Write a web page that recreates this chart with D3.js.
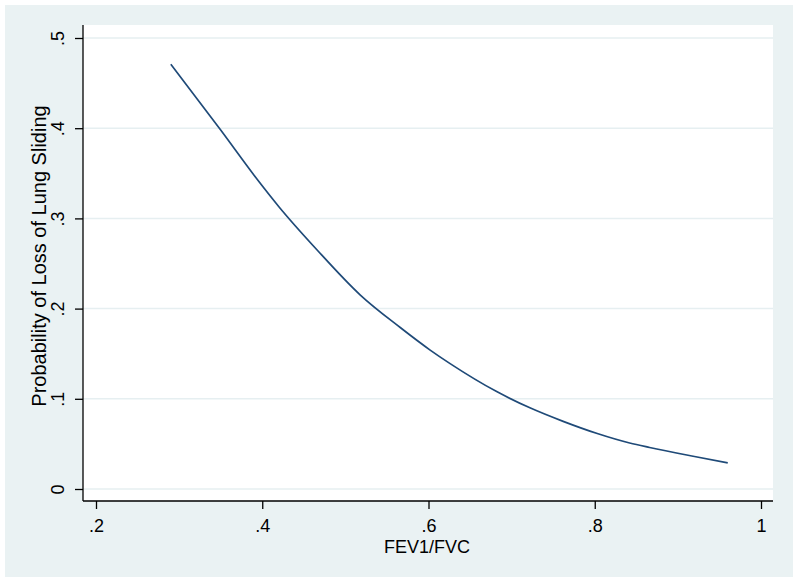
<!DOCTYPE html>
<html>
<head>
<meta charset="utf-8">
<script src="https://cdn.jsdelivr.net/npm/d3@7"></script>
<style>
  body { margin: 0; background: #fff; }
  text { font-family: "Liberation Sans", Arial, sans-serif; fill: #000; }
</style>
</head>
<body>
<div id="chart"></div>
<script>
// values
var fevRatio = [0.29, 0.35, 0.395, 0.42, 0.466, 0.518, 0.566, 0.602, 0.626, 0.682, 0.722, 0.762, 0.803, 0.842, 0.866, 0.92, 0.96];
var probLoss = [0.471, 0.398, 0.342, 0.313, 0.265, 0.215, 0.179, 0.154, 0.139, 0.108, 0.090, 0.075, 0.0615, 0.051, 0.046, 0.036, 0.029];
var xTicks = [0.2, 0.4, 0.6, 0.8, 1];
var yTicks = [0, 0.1, 0.2, 0.3, 0.4, 0.5];

function setUpChart() {
  var svgWidth = 800;
  var svgHeight = 585;

  var svg = d3.select("#chart")
    .append("svg")
    .attr("width", svgWidth)
    .attr("height", svgHeight);

  // outer graph region
  svg.append("rect")
    .attr("x", 5).attr("y", 5)
    .attr("width", 788).attr("height", 572)
    .attr("fill", "#eaf2f3");

  // plot region
  var plot = { left: 83, top: 25, right: 773, bottom: 501 };
  svg.append("rect")
    .attr("x", plot.left).attr("y", plot.top)
    .attr("width", plot.right - plot.left)
    .attr("height", plot.bottom - plot.top)
    .attr("fill", "#fff");

  var xScale = d3.scaleLinear().domain([0.2, 1]).range([96, 761]);
  var yScale = d3.scaleLinear().domain([0, 0.5]).range([489, 38]);

  // gridlines
  svg.append("g")
    .selectAll("line")
    .data(yTicks)
    .enter()
    .append("line")
    .attr("x1", plot.left).attr("x2", plot.right)
    .attr("y1", d => yScale(d)).attr("y2", d => yScale(d))
    .attr("stroke", "#e6eff1")
    .attr("stroke-width", 1.5);

  var fmt = d => d === 0 ? "0" : d === 1 ? "1" : d3.format(".1f")(d).replace(/^0/, "");

  // x axis
  var bottomAxis = d3.axisBottom(xScale)
    .tickValues(xTicks)
    .tickFormat(fmt)
    .tickSizeInner(8)
    .tickSizeOuter(0);

  var xAxis = svg.append("g")
    .attr("transform", `translate(0, ${plot.bottom})`)
    .call(bottomAxis);
  xAxis.select(".domain").attr("d", `M${plot.left},0H${plot.right}`);
  xAxis.selectAll(".tick text").attr("dy", null).attr("y", 31);

  // y axis
  var leftAxis = d3.axisLeft(yScale)
    .tickValues(yTicks)
    .tickFormat(fmt)
    .tickSizeInner(8)
    .tickSizeOuter(0);

  var yAxis = svg.append("g")
    .attr("transform", `translate(${plot.left}, 0)`)
    .call(leftAxis);
  yAxis.select(".domain").attr("d", `M0,${plot.top}V${plot.bottom}`);
  yAxis.selectAll(".tick text")
    .attr("x", null).attr("dy", null)
    .attr("text-anchor", "middle")
    .attr("transform", "translate(-19,0) rotate(-90)")
    .attr("y", 0);

  [xAxis, yAxis].forEach(function(ax) {
    ax.selectAll(".domain").attr("stroke", "#000").attr("stroke-width", 1.3);
    ax.selectAll(".tick line").attr("stroke", "#000").attr("stroke-width", 1.3);
    ax.selectAll(".tick text")
      .attr("font-size", "18px")
      .attr("font-family", "Liberation Sans, Arial, sans-serif")
      .attr("fill", "#000");
  });

  // the fitted line
  var points = fevRatio.map((d, i) => ({ x: d, y: probLoss[i] }));
  var line = d3.line()
    .x(d => xScale(d.x))
    .y(d => yScale(d.y))
    .curve(d3.curveMonotoneX);

  svg.append("path")
    .datum(points)
    .attr("d", line)
    .attr("fill", "none")
    .attr("stroke", "#1f4a78")
    .attr("stroke-width", 1.7);

  // axis titles
  svg.append("text")
    .attr("transform", "translate(46, 256) rotate(-90)")
    .attr("text-anchor", "middle")
    .attr("font-size", "20px")
    .text("Probability of Loss of Lung Sliding");

  svg.append("text")
    .attr("x", 427)
    .attr("y", 553)
    .attr("text-anchor", "middle")
    .attr("font-size", "18px")
    .text("FEV1/FVC");
}

setUpChart();
</script>
</body>
</html>
